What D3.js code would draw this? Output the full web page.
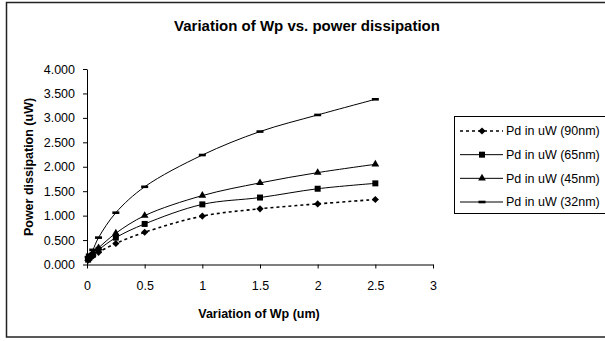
<!DOCTYPE html>
<html>
<head>
<meta charset="utf-8">
<script src="https://cdn.jsdelivr.net/npm/d3@7"></script>
<style>
  body { margin: 0; background: #fff; }
  text { font-family: 'Liberation Sans', Arial, sans-serif; fill: #000; }
</style>
</head>
<body>
<svg width="605" height="341"></svg>
<script>
const svg = d3.select('svg');

// Wp values (um)
const wp = [0.01, 0.02, 0.05, 0.1, 0.25, 0.5, 1, 1.5, 2, 2.5];

// power dissipation (uW) per node
const pd90 = [0.09, 0.12, 0.17, 0.25, 0.43, 0.66, 0.99, 1.14, 1.24, 1.33];
const pd65 = [0.10, 0.14, 0.20, 0.30, 0.55, 0.83, 1.23, 1.37, 1.55, 1.66];
const pd45 = [0.12, 0.16, 0.23, 0.34, 0.64, 1.00, 1.41, 1.67, 1.88, 2.05];
const pd32 = [0.15, 0.20, 0.30, 0.55, 1.06, 1.59, 2.24, 2.72, 3.06, 3.38];

const seriesNames = ['Pd in uW (90nm)', 'Pd in uW (65nm)', 'Pd in uW (45nm)', 'Pd in uW (32nm)'];
const xTicks = [0, 0.5, 1, 1.5, 2, 2.5, 3];
const yTicks = [0, 0.5, 1, 1.5, 2, 2.5, 3, 3.5, 4];

const series = [
  { name: seriesNames[0], values: pd90, marker: 'diamond', dash: '3,3', width: 1.6 },
  { name: seriesNames[1], values: pd65, marker: 'square', dash: null, width: 1 },
  { name: seriesNames[2], values: pd45, marker: 'triangle', dash: null, width: 1 },
  { name: seriesNames[3], values: pd32, marker: 'dash', dash: null, width: 1 }
];

// outer chart border (right edge falls off the picture)
svg.append('rect')
  .attr('x', 6.5).attr('y', 2.5)
  .attr('width', 610).attr('height', 334.5)
  .attr('fill', '#fff')
  .attr('stroke', '#222')
  .attr('stroke-width', 1.5);

const xScale = d3.scaleLinear().domain([0, 3]).range([87, 433]);
const yScale = d3.scaleLinear().domain([0, 4]).range([264.5, 69]);

// axes
const xAxis = d3.axisBottom(xScale)
  .tickValues(xTicks)
  .tickFormat(d => String(d))
  .tickSize(4)
  .tickSizeOuter(0)
  .tickPadding(13);

const yAxis = d3.axisLeft(yScale)
  .tickValues(yTicks)
  .tickFormat(d3.format('.3f'))
  .tickSize(4)
  .tickSizeOuter(0)
  .tickPadding(8);

const xAxisG = svg.append('g')
  .attr('transform', `translate(0,${yScale(0)})`)
  .call(xAxis);
const yAxisG = svg.append('g')
  .attr('transform', `translate(${xScale(0)},0)`)
  .call(yAxis);

[xAxisG, yAxisG].forEach(g => {
  g.selectAll('text')
    .attr('font-family', "'Liberation Sans', Arial, sans-serif")
    .attr('font-size', '12.5px')
    .attr('fill', '#000');
  g.selectAll('line, path').attr('stroke', '#000');
});

// lines
const line = d3.line()
  .x(d => xScale(d[0]))
  .y(d => yScale(d[1]))
  .curve(d3.curveCatmullRom.alpha(0.5));

const markerPath = (type) => {
  if (type === 'diamond') return d3.symbol(d3.symbolSquare, 26)();
  if (type === 'square') return d3.symbol(d3.symbolSquare, 36)();
  if (type === 'triangle') return d3.symbol(d3.symbolTriangle, 26)();
  return 'M-3.5,-1.3H3.5V1.3H-3.5Z';
};

series.forEach(s => {
  const pts = wp.map((x, i) => [x, s.values[i]]);
  svg.append('path')
    .datum(pts)
    .attr('d', line)
    .attr('fill', 'none')
    .attr('stroke', '#000')
    .attr('stroke-width', s.width)
    .attr('stroke-dasharray', s.dash);

  svg.append('g').selectAll('path')
    .data(pts)
    .enter().append('path')
    .attr('d', markerPath(s.marker))
    .attr('transform', d => `translate(${xScale(d[0])},${yScale(d[1])})` + (s.marker === 'diamond' ? ' rotate(45)' : ''))
    .attr('fill', '#000');
});

// titles
svg.append('text')
  .attr('x', 307).attr('y', 30.5)
  .attr('text-anchor', 'middle')
  .attr('font-size', '15px')
  .attr('font-weight', 'bold')
  .text('Variation of Wp vs. power dissipation');

svg.append('text')
  .attr('x', 259).attr('y', 318)
  .attr('text-anchor', 'middle')
  .attr('font-size', '12.5px')
  .attr('font-weight', 'bold')
  .text('Variation of Wp (um)');

svg.append('text')
  .attr('transform', 'translate(33,167) rotate(-90)')
  .attr('text-anchor', 'middle')
  .attr('font-size', '12.5px')
  .attr('font-weight', 'bold')
  .text('Power dissipation (uW)');

// legend
const legend = svg.append('g');
legend.append('rect')
  .attr('x', 454.5).attr('y', 116.5)
  .attr('width', 170).attr('height', 97)
  .attr('fill', '#fff')
  .attr('stroke', '#000')
  .attr('stroke-width', 1);

const legendY = d3.scalePoint().domain(seriesNames).range([131, 202]);

series.forEach(s => {
  const y = legendY(s.name);
  legend.append('line')
    .attr('x1', 460).attr('x2', 503)
    .attr('y1', y).attr('y2', y)
    .attr('stroke', '#000')
    .attr('stroke-width', s.width)
    .attr('stroke-dasharray', s.dash);
  legend.append('path')
    .attr('d', markerPath(s.marker))
    .attr('transform', `translate(482,${y})` + (s.marker === 'diamond' ? ' rotate(45)' : ''))
    .attr('fill', '#000');
  legend.append('text')
    .attr('x', 506).attr('y', y)
    .attr('dy', '0.35em')
    .attr('font-size', '12.5px')
    .text(s.name);
});
</script>
</body>
</html>
